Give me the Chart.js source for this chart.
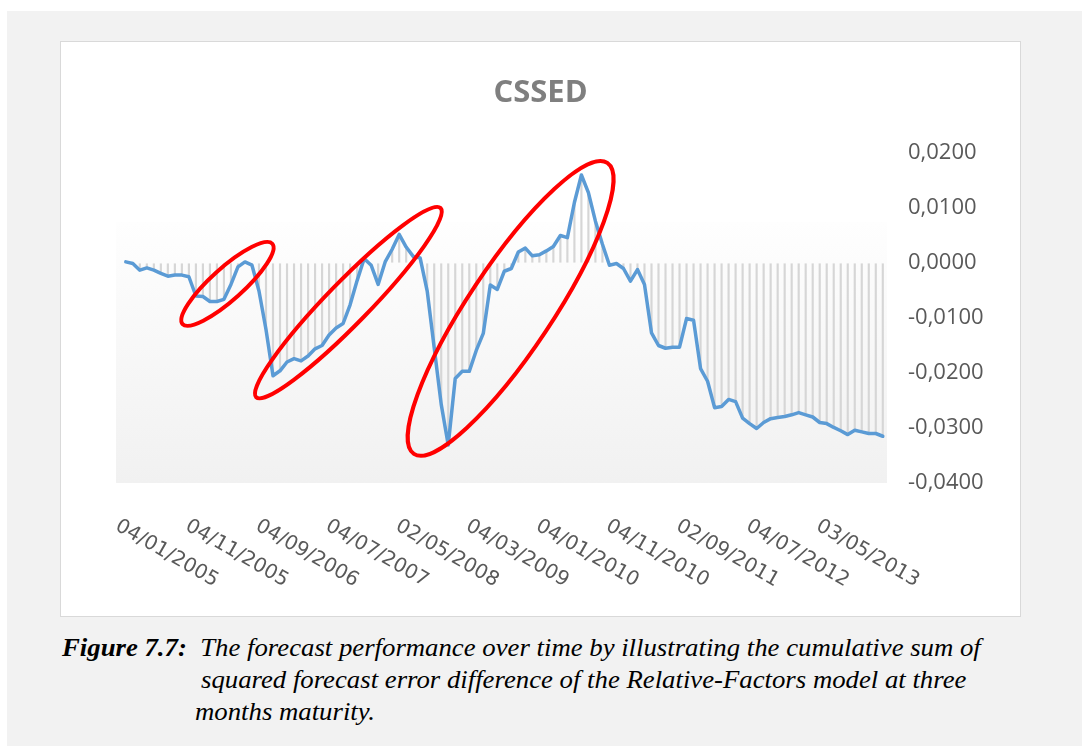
<!DOCTYPE html>
<html>
<head>
<meta charset="utf-8">
<title>CSSED</title>
<script src="https://cdn.jsdelivr.net/npm/chart.js@4/dist/chart.umd.min.js"></script>
<style>
  html, body { margin: 0; padding: 0; background: #fff; }
  body { width: 1082px; height: 746px; position: relative; overflow: hidden; }
  .panel { position: absolute; left: 7px; top: 11px; width: 1075px; height: 735px; background: #f2f2f2; }
  .box { position: absolute; left: 60px; top: 41px; width: 959px; height: 574px; background: #fff; border: 1px solid #d9d9d9; }
  .box canvas { display: block; }
  .cap { position: absolute; font-family: "Liberation Serif", "Times New Roman", serif; font-style: italic; font-size: 25px; line-height: 32px; color: #000; white-space: nowrap; transform: scaleX(1.07); transform-origin: 0 0; }
  .cap b { font-weight: bold; }
</style>
</head>
<body>
<div class="panel"></div>
<div class="box"><canvas id="chart" width="959" height="574"></canvas></div>
<div class="cap" style="left:62px;top:632px"><b>Figure 7.7:</b>&nbsp; The forecast performance over time by illustrating the cumulative sum of</div>
<div class="cap" style="left:201px;top:664px">squared forecast error difference of the Relative-Factors model at three</div>
<div class="cap" style="left:195px;top:696px">months maturity.</div>
<script>
// CSSED, monthly points, Jan 2005 -> Jan 2014
const cssed = [
  0.0002, -0.0001, -0.0013, -0.0009, -0.0013, -0.0019, -0.0024, -0.0022, -0.0022, -0.0025,
  -0.0060, -0.0061, -0.0070, -0.0070, -0.0066, -0.0039, -0.0007, 0.0002, -0.0004, -0.0051,
  -0.0121, -0.0205, -0.0196, -0.0180, -0.0174, -0.0178, -0.0169, -0.0156, -0.0150, -0.0131,
  -0.0118, -0.0110, -0.0076, -0.0032, 0.0008, -0.0004, -0.0039, 0.0002, 0.0025, 0.0052,
  0.0029, 0.0012, 0.0009, -0.0051, -0.0154, -0.0257, -0.0331, -0.0210, -0.0197, -0.0197,
  -0.0159, -0.0128, -0.0040, -0.0048, -0.0015, -0.0010, 0.0020, 0.0027, 0.0013, 0.0015,
  0.0022, 0.0030, 0.0050, 0.0046, 0.0110, 0.0160, 0.0128, 0.0076, 0.0034, -0.0004,
  -0.0001, -0.0010, -0.0033, -0.0012, -0.0039, -0.0127, -0.0150, -0.0155, -0.0153, -0.0153,
  -0.0101, -0.0104, -0.0192, -0.0215, -0.0263, -0.0261, -0.0248, -0.0252, -0.0282, -0.0292,
  -0.0301, -0.0290, -0.0283, -0.0281, -0.0279, -0.0276, -0.0272, -0.0276, -0.0280, -0.0290,
  -0.0292, -0.0299, -0.0305, -0.0312, -0.0304, -0.0307, -0.0310, -0.0310, -0.0315
];

// category labels shown on the axis, one every 10 months
const dateLabels = ['04/01/2005', '04/11/2005', '04/09/2006', '04/07/2007', '02/05/2008', '04/03/2009',
  '04/01/2010', '04/11/2010', '02/09/2011', '04/07/2012', '03/05/2013'];
const labelEvery = 10;

const yTicks = { min: -0.04, max: 0.02, step: 0.01 };
const bandTop = 0.0075; // top of the grey plot fill

// red hand-drawn rings: ends of the long axis in (month index, value), half width in px
const rings = [
  { from: [8.1, -0.0111], to: [20.9, 0.0035], half: 16 },
  { from: [18.6, -0.0244], to: [44.9, 0.0100], half: 21 },
  { from: [41.1, -0.0347], to: [68.7, 0.0182], half: 42 },
];

const pts = cssed.map((v, i) => ({ x: i, y: v }));

const bandPlugin = {
  id: 'band',
  beforeDatasetsDraw(chart) {
    const { ctx, chartArea: a, scales: { y } } = chart;
    const top = y.getPixelForValue(bandTop);
    const g = ctx.createLinearGradient(0, top, 0, a.bottom);
    g.addColorStop(0, '#fefefe');
    g.addColorStop(1, '#f1f1f1');
    ctx.save();
    ctx.fillStyle = g;
    ctx.fillRect(a.left, top, a.right - a.left, a.bottom - top);
    ctx.restore();
  }
};

const ringPlugin = {
  id: 'rings',
  afterDatasetsDraw(chart) {
    const { ctx, scales: { x, y } } = chart;
    ctx.save();
    ctx.strokeStyle = '#ff0000';
    ctx.lineWidth = 4;
    rings.forEach((r) => {
      const ax = x.getPixelForValue(r.from[0]), ay = y.getPixelForValue(r.from[1]);
      const bx = x.getPixelForValue(r.to[0]), by = y.getPixelForValue(r.to[1]);
      const len = Math.hypot(bx - ax, by - ay) / 2;
      ctx.beginPath();
      ctx.ellipse((ax + bx) / 2, (ay + by) / 2, len, r.half, Math.atan2(by - ay, bx - ax), 0, Math.PI * 2);
      ctx.stroke();
    });
    ctx.restore();
  }
};

// title centred on the whole box, not on the plot
const titlePlugin = {
  id: 'boxTitle',
  afterDraw(chart) {
    const { ctx } = chart;
    ctx.save();
    ctx.font = 'bold 31px "Open Sans"';
    ctx.fillStyle = '#7f7f7f';
    ctx.textAlign = 'center';
    ctx.textBaseline = 'middle';
    ctx.fillText('CSSED', chart.width / 2, 51);
    ctx.restore();
  }
};

// slanted date labels (Chart.js only slants them the other way)
const dateAxisPlugin = {
  id: 'dates',
  afterDraw(chart) {
    const { ctx, chartArea: a, scales: { x } } = chart;
    ctx.save();
    ctx.font = '20px "DejaVu Sans"';
    ctx.fillStyle = '#595959';
    ctx.textAlign = 'left';
    ctx.textBaseline = 'top';
    dateLabels.forEach((t, k) => {
      const px = x.getPixelForValue(k * labelEvery);
      ctx.save();
      ctx.translate(px - 4, a.bottom + 33);
      ctx.rotate(Math.PI / 6);
      ctx.fillText(t, 0, 0);
      ctx.restore();
    });
    ctx.restore();
  }
};

new Chart(document.getElementById('chart'), {
  data: {
    datasets: [
      { type: 'line', data: pts, borderColor: '#5b9bd5', borderWidth: 3.5, pointRadius: 0, tension: 0,
        borderJoinStyle: 'round', borderCapStyle: 'round', fill: false, order: 0 },
      { type: 'bar', data: pts, backgroundColor: '#d6d6d6', barThickness: 1.5, order: 1 },
    ]
  },
  options: {
    responsive: false,
    animation: false,
    events: [],
    layout: { padding: { left: 55, right: 0, top: 111, bottom: 133 } },
    plugins: {
      legend: { display: false },
      tooltip: { enabled: false },
      title: { display: false }
    },
    scales: {
      x: { type: 'linear', display: false, offset: false, min: -1.4, max: 108.6 },
      y: {
        position: 'right', min: yTicks.min, max: yTicks.max,
        afterFit(s) { s.width = 133; },
        border: { display: false },
        grid: { drawTicks: false, lineWidth: 1.5, color: (c) => (c.tick && c.tick.value === 0 ? '#d9d9d9' : 'transparent') },
        ticks: {
          stepSize: yTicks.step, padding: 21, color: '#595959',
          font: { family: '"Open Sans"', size: 22 },
          callback: (v) => v.toFixed(4).replace('.', ',')
        }
      }
    }
  },
  plugins: [bandPlugin, ringPlugin, titlePlugin, dateAxisPlugin]
});
</script>
</body>
</html>
